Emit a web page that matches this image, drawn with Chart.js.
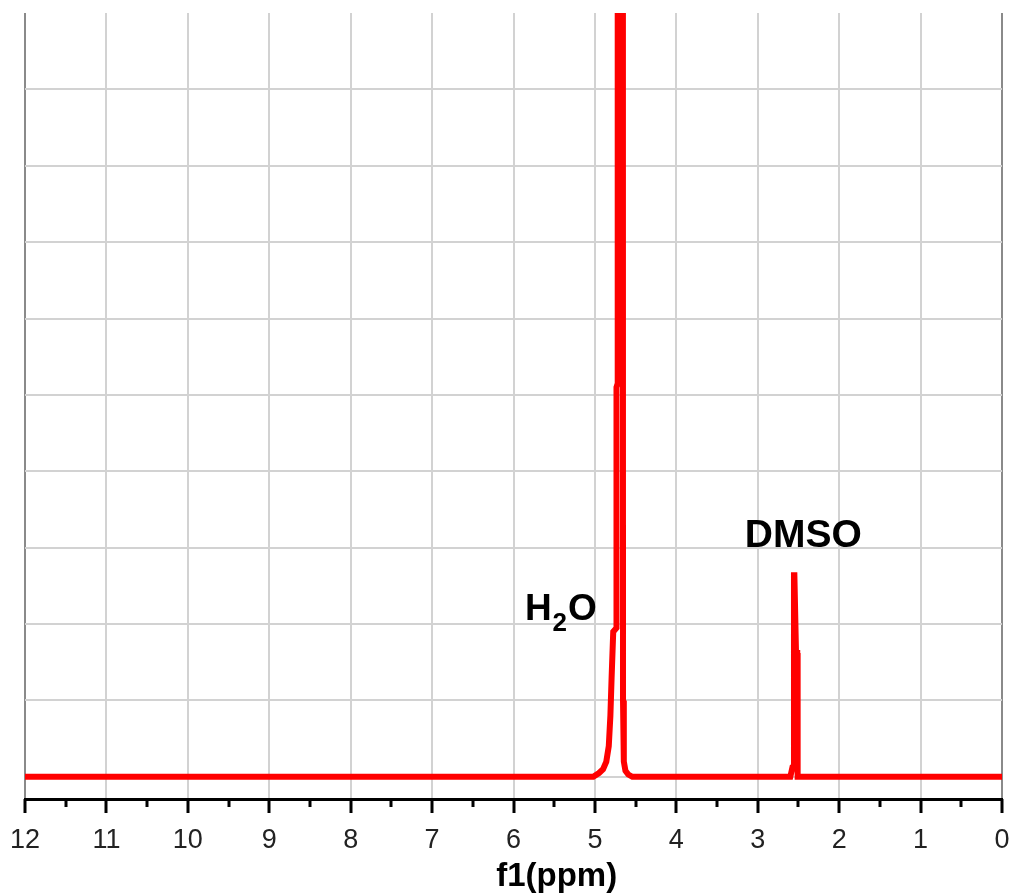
<!DOCTYPE html>
<html>
<head>
<meta charset="utf-8">
<script src="https://cdn.jsdelivr.net/npm/chart.js@4"></script>
<style>
  html, body { margin: 0; padding: 0; background: #fff; overflow: hidden; }
  #wrap { width: 1013px; height: 895px; position: relative; }
  canvas { display: block; }
</style>
</head>
<body>
<div id="wrap"><canvas id="nmr"></canvas></div>
<script>
// spectrum (ppm, intensity)
const ppm = [12, 5.02, 4.95, 4.90, 4.86, 4.83, 4.81, 4.795, 4.775, 4.735, 4.735, 4.72, 4.72, 4.66, 4.655, 4.645, 4.625, 4.59, 4.54,
             2.60, 2.575, 2.56, 2.555, 2.55, 2.53, 2.515, 2.51, 0];
const intensity = [0, 0, 0.05, 0.1, 0.2, 0.4, 0.8, 1.3, 1.9, 1.95, 5.1, 5.15, 40, 40, 1.0, 0.2, 0.08, 0.03, 0,
                   0, 0.12, 0.12, 2.64, 2.64, 1.62, 1.62, 0, 0];

const majorTicks = [12, 11, 10, 9, 8, 7, 6, 5, 4, 3, 2, 1, 0];
const minorTicks = [11.5, 10.5, 9.5, 8.5, 7.5, 6.5, 5.5, 4.5, 3.5, 2.5, 1.5, 0.5];
const yGridLines = [0, 1, 2, 3, 4, 5, 6, 7, 8, 9];

const peakLabels = ['H2O', 'DMSO'];
const labelPpm = [5.86, 3.16];
const labelInt = [2.05, 3.01];

const axisTitle = 'f1(ppm)';
const axisTitlePpm = 5.47;

const points = ppm.map((p, i) => ({ x: p, y: intensity[i] }));

const FONT = '"Liberation Sans", Arial, sans-serif';

const tickPlugin = {
    id: 'tickMarks',
    afterDraw(chart) {
        const ctx = chart.ctx;
        const xs = chart.scales.x;
        const top = xs.top;
        ctx.save();
        ctx.strokeStyle = '#000';
        ctx.lineWidth = 3;
        majorTicks.forEach(v => {
            const px = Math.round(xs.getPixelForValue(v));
            ctx.beginPath();
            ctx.moveTo(px, top);
            ctx.lineTo(px, top + 14);
            ctx.stroke();
        });
        minorTicks.forEach(v => {
            const px = Math.round(xs.getPixelForValue(v));
            ctx.beginPath();
            ctx.moveTo(px, top);
            ctx.lineTo(px, top + 8);
            ctx.stroke();
        });
        // axis title
        ctx.fillStyle = '#000';
        ctx.font = 'bold 33px ' + FONT;
        ctx.textAlign = 'center';
        ctx.textBaseline = 'alphabetic';
        ctx.fillText(axisTitle, xs.getPixelForValue(axisTitlePpm), 886);
        ctx.restore();
    }
};

const labelPlugin = {
    id: 'peakLabels',
    afterDatasetsDraw(chart) {
        const ctx = chart.ctx;
        const xs = chart.scales.x, ys = chart.scales.y;
        ctx.save();
        ctx.fillStyle = '#000';
        ctx.textBaseline = 'alphabetic';
        ctx.textAlign = 'left';
        // H2O with subscript
        let x = xs.getPixelForValue(labelPpm[0]);
        let y = ys.getPixelForValue(labelInt[0]);
        ctx.font = 'bold 37px ' + FONT;
        ctx.fillText('H', x, y);
        x += ctx.measureText('H').width;
        ctx.font = 'bold 26px ' + FONT;
        ctx.fillText('2', x + 1, y + 11);
        x += ctx.measureText('2').width + 2;
        ctx.font = 'bold 37px ' + FONT;
        ctx.fillText('O', x, y);
        // DMSO
        ctx.font = 'bold 39px ' + FONT;
        ctx.fillText(peakLabels[1], xs.getPixelForValue(labelPpm[1]), ys.getPixelForValue(labelInt[1]));
        ctx.restore();
    }
};

new Chart(document.getElementById('nmr'), {
    type: 'line',
    data: {
        datasets: [{
            data: points,
            borderColor: '#ff0000',
            borderWidth: 6,
            pointRadius: 0,
            tension: 0,
            fill: false
        }]
    },
    options: {
        responsive: true,
        maintainAspectRatio: false,
        animation: false,
        layout: { padding: { left: 25, right: 11, top: 13, bottom: 0 } },
        plugins: { legend: { display: false }, tooltip: { enabled: false } },
        scales: {
            x: {
                type: 'linear',
                reverse: true,
                min: 0,
                max: 12,
                afterBuildTicks: s => { s.ticks = majorTicks.map(v => ({ value: v })); },
                afterFit: s => { s.height = 96; s.paddingLeft = 0; s.paddingRight = 0; },
                grid: {
                    color: c => (c.tick && (c.tick.value === 0 || c.tick.value === 12)) ? '#8a8a8a' : '#d2d2d2',
                    lineWidth: 2,
                    drawTicks: true,
                    tickLength: 14,
                    tickColor: 'rgba(0,0,0,0)'
                },
                border: { display: true, color: '#000', width: 3 },
                ticks: {
                    autoSkip: false,
                    maxRotation: 0,
                    padding: 11,
                    color: '#222',
                    font: { family: FONT, size: 27 },
                    callback: v => String(v)
                },
                title: { display: false }
            },
            y: {
                type: 'linear',
                min: -0.29,
                max: 10,
                afterBuildTicks: s => { s.ticks = yGridLines.map(v => ({ value: v })); },
                afterFit: s => { s.width = 0; },
                grid: { color: '#d2d2d2', lineWidth: 2, drawTicks: false },
                border: { display: false },
                ticks: { display: false }
            }
        }
    },
    plugins: [tickPlugin, labelPlugin]
});
</script>
</body>
</html>
